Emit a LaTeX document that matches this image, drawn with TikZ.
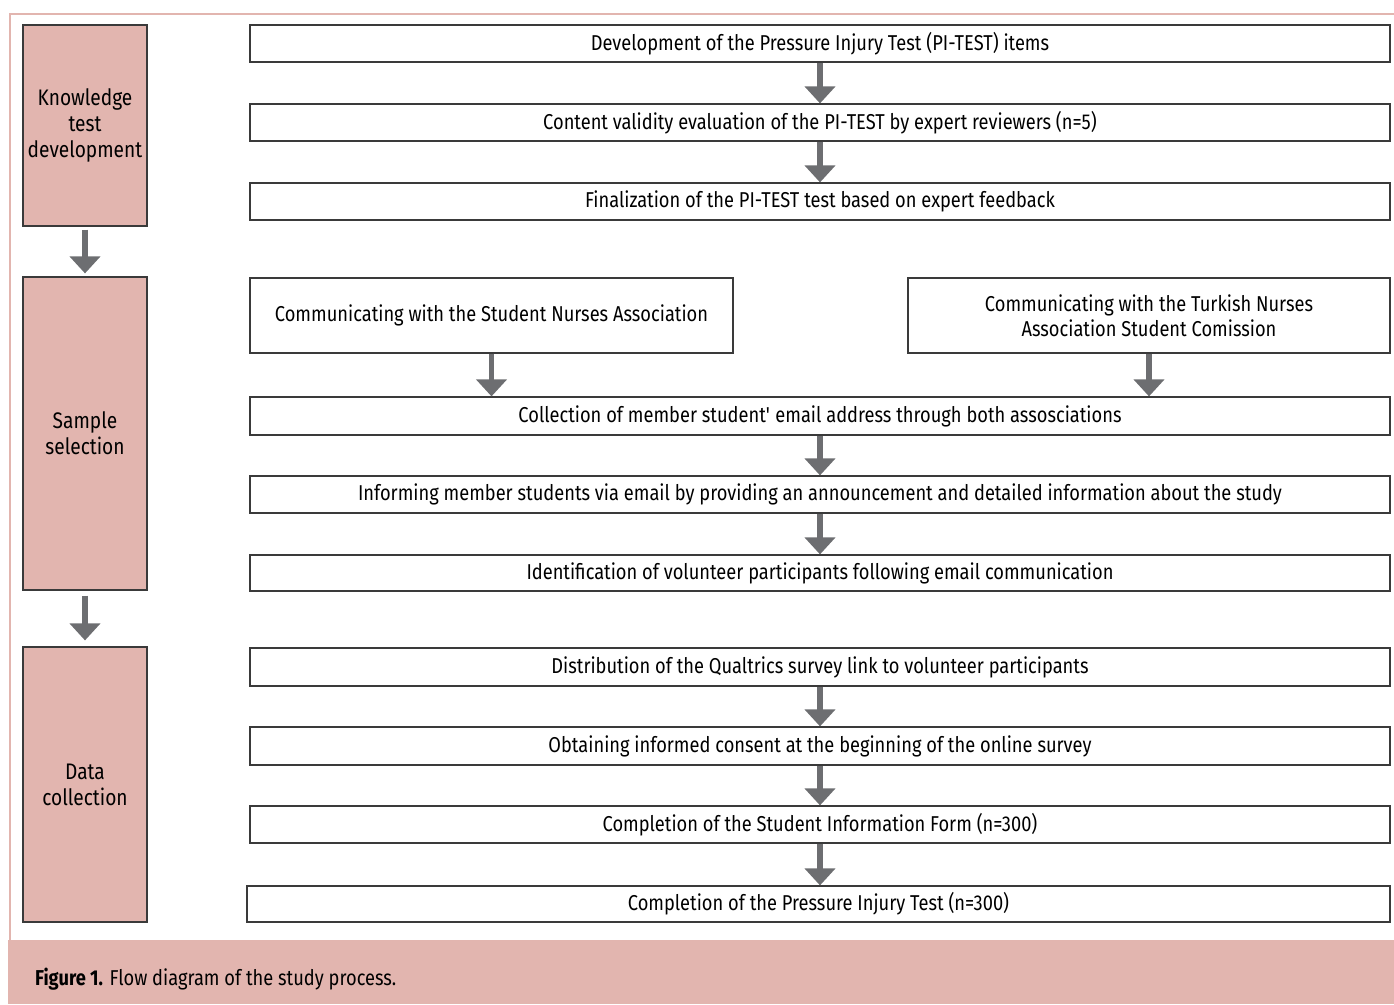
\documentclass[tikz,border=0pt]{standalone}
\usepackage{fontspec}
\setmainfont{Fira Sans}[FakeStretch=0.85]
\usetikzlibrary{arrows.meta}
\definecolor{pinkband}{HTML}{E2B5AF}
\definecolor{arrowgray}{HTML}{6D6E71}
\definecolor{boxline}{HTML}{3A3A3A}
\tikzset{
  stagebox/.style={draw=boxline, line width=1.2pt, fill=pinkband, minimum width=124pt, inner sep=0pt, align=center, font=\fontsize{22.5}{26}\selectfont},
  stepbox/.style={draw=boxline, line width=1.2pt, fill=white, inner sep=0pt, align=center, font=\fontsize{21.5}{25}\selectfont},
  flowarrow/.style={draw=arrowgray, line width=5.5pt, -{Triangle[width=30pt,length=17pt]}, arrowgray},
}
\begin{document}
\begin{tikzpicture}[x=1pt,y=-1pt]
\useasboundingbox (0,0) rectangle (1394,1004);
% frame and caption band
\draw[pinkband, line width=2.2pt] (10,940) -- (10,14) -- (1394,14);
\fill[pinkband] (8,940) rectangle (1394,1004);
\node[anchor=west, font=\fontsize{21.5}{24}\selectfont, inner sep=0pt] (cap) at (35,979) {\textbf{Figure 1.} Flow diagram of the study process.};
% stage boxes
\node[stagebox, minimum height=201pt] (s1) at (85,125.5) {Knowledge\\test\\development};
\node[stagebox, minimum height=313pt] (s2) at (85,433.5) {Sample\\selection};
\node[stagebox, minimum height=275pt] (s3) at (85,784.5) {Data\\collection};
% steps
\node[stepbox, minimum width=1140pt, minimum height=37pt] (r1) at (820,43.5) {Development of the Pressure Injury Test (PI-TEST) items};
\node[stepbox, minimum width=1140pt, minimum height=37pt] (r2) at (820,122.5) {Content validity evaluation of the PI-TEST by expert reviewers (n=5)};
\node[stepbox, minimum width=1140pt, minimum height=37pt] (r3) at (820,201.5) {Finalization of the PI-TEST test based on expert feedback};
\node[stepbox, minimum width=483pt, minimum height=75pt] (ra) at (491.5,315.5) {Communicating with the Student Nurses Association};
\node[stepbox, minimum width=482pt, minimum height=75pt] (rb) at (1149,315.5) {Communicating with the Turkish Nurses\\Association Student Comission};
\node[stepbox, minimum width=1140pt, minimum height=38pt] (r4) at (820,416) {Collection of member student\textquotesingle{} email address through both assosciations};
\node[stepbox, minimum width=1140pt, minimum height=37pt] (r5) at (820,494.5) {Informing member students via email by providing an announcement and detailed information about the study};
\node[stepbox, minimum width=1140pt, minimum height=36pt] (r6) at (820,573) {Identification of volunteer participants following email communication};
\node[stepbox, minimum width=1140pt, minimum height=38pt] (r7) at (820,667) {Distribution of the Qualtrics survey link to volunteer participants};
\node[stepbox, minimum width=1140pt, minimum height=38pt] (r8) at (820,746) {Obtaining informed consent at the beginning of the online survey};
\node[stepbox, minimum width=1140pt, minimum height=37pt] (r9) at (820,824.5) {Completion of the Student Information Form (n=300)};
\node[stepbox, minimum width=1143pt, minimum height=36pt] (r10) at (818.5,904) {Completion of the Pressure Injury Test (n=300)};
% arrows
\draw[flowarrow] (r1.south) -- (r2.north);
\draw[flowarrow] (r2.south) -- (r3.north);
\draw[flowarrow] (ra.south) -- (ra.south |- r4.north);
\draw[flowarrow] (rb.south) -- (rb.south |- r4.north);
\draw[flowarrow] (r4.south) -- (r5.north);
\draw[flowarrow] (r5.south) -- (r6.north);
\draw[flowarrow] (r7.south) -- (r8.north);
\draw[flowarrow] (r8.south) -- (r9.north);
\draw[flowarrow] (r9.south -| r8.south) -- (r8.south |- r10.north);
\draw[flowarrow, shorten <=3pt, shorten >=3pt] (s1.south) -- (s2.north);
\draw[flowarrow, shorten <=5pt, shorten >=6pt] (s2.south) -- (s3.north);
\end{tikzpicture}
\end{document}
